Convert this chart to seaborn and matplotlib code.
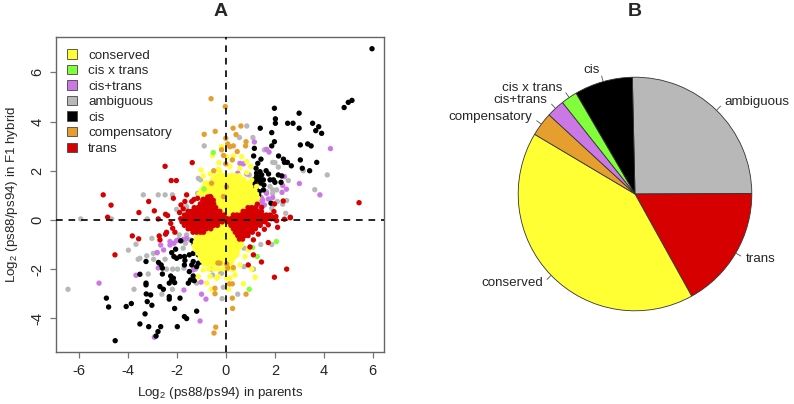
import matplotlib
matplotlib.use("Agg")
import matplotlib.pyplot as plt
from matplotlib.patches import Patch
import numpy as np
import pandas as pd
import seaborn as sns

# ----- Scatter values: log2 ratio in parents (x), in F1 hybrid (y) -----
cis = [
    (5.97, 6.96), (5.15, 4.86), (5.0, 4.78), (4.83, 4.57), (1.98, 4.54), (2.99, 4.34), (2.02, 4.11), (2.02, 3.93),
    (2.52, 3.93), (2.74, 3.93), (3.54, 3.93), (3.79, 3.79), (2.99, 3.73), (1.40, 3.73), (3.67, 3.63), (3.91, 3.52),
    (1.87, 3.55), (1.98, 3.18), (1.87, 3.01), (3.04, 3.05), (3.34, 3.09), (3.48, 3.01), (1.16, 2.91), (1.13, 2.60),
    (2.15, 2.60), (2.35, 2.47), (3.04, 2.44), (2.39, 2.34), (2.51, 2.34), (3.71, 2.34), (2.67, 2.2), (3.12, 2.1),
    (3.42, 2.0), (1.43, 2.47), (1.30, 2.30), (1.23, 2.10), (1.39, 1.96), (1.64, 2.0), (1.74, 1.87), (2.14, 1.83),
    (2.28, 1.79), (1.80, 1.63), (1.94, 1.63), (2.0, 1.53), (2.25, 1.53), (1.12, 1.63), (1.19, 1.49), (1.32, 1.63),
    (1.53, 1.63), (1.46, 1.83), (1.25, 1.76), (1.12, 1.40), (1.23, 1.29), (1.36, 1.15), (1.53, 1.22), (1.55, 1.42),
    (1.19, 0.75), (1.84, 0.68), (0.98, 1.02), (0.82, 0.72), (1.05, 0.9), (1.33, 1.0), (1.42, 1.5), (1.25, 1.9),
    (1.38, 1.72), (1.2, 1.1),
    (-4.53, -4.91), (-4.89, -3.18), (-4.80, -3.54), (-4.08, -3.52), (-3.87, -3.40), (-3.52, -2.21), (-3.27, -1.69),
    (-3.27, -2.57), (-3.27, -2.64), (-3.26, -3.01), (-3.08, -3.05), (-3.22, -3.32), (-3.03, -3.47), (-3.31, -3.82),
    (-3.52, -4.23), (-3.16, -4.34), (-2.67, -4.34), (-2.78, -4.54), (-2.86, -4.72), (-1.99, -4.34), (-2.10, -3.60),
    (-1.70, -3.93), (-1.61, -4.01), (-1.20, -3.71), (-1.88, -3.18), (-2.32, -3.12), (-2.32, -3.22), (-2.70, -2.71),
    (-2.56, -2.82), (-2.60, -2.20), (-2.60, -1.96), (-2.76, -1.73), (-2.65, -1.83), (-2.26, -2.28), (-2.15, -2.37),
    (-2.22, -2.44), (-2.32, -2.57), (-2.10, -2.55), (-1.54, -2.57), (-1.45, -2.44), (-1.30, -2.47), (-2.06, -1.19),
    (-2.22, -1.33), (-2.13, -1.49), (-2.02, -1.56), (-1.88, -1.49), (-1.70, -1.49), (-1.50, -1.42), (-1.34, -1.36),
    (-1.13, -1.42), (-1.68, -1.65), (-1.70, -1.83), (-1.50, -2.10), (-1.40, -1.83), (-1.34, -1.69), (-1.13, -1.76),
    (-0.95, -1.73), (-1.20, -1.90), (-1.34, -2.28), (-1.85, -0.85), (-1.38, -0.85), (-1.3, -1.0), (-0.9, -1.25),
]
ambiguous = [
    (0.85, 3.82), (0.55, 3.35), (1.10, 3.35), (1.57, 2.85), (1.91, 2.34), (2.0, 2.33), (2.14, 2.15), (3.16, 2.0),
    (4.14, 1.83), (2.55, 1.6), (1.80, 1.36), (1.91, 1.22), (2.07, 1.22), (3.63, 1.23), (2.48, 0.79), (2.10, 0.75),
    (2.32, 0.64), (2.44, 0.27), (1.66, 1.15), (1.91, 1.08), (1.87, 0.47), (0.95, 1.83),
    (-0.89, 3.01), (-3.38, 1.02), (-2.77, 1.02), (-2.49, 1.02), (-2.19, 1.02), (-2.02, 0.43), (-1.61, 0.54),
    (-1.57, 0.34), (-1.13, 1.69), (-1.04, 1.63), (-5.94, 0.04), (-4.68, 0.04), (-3.22, 0.04), (-1.16, 1.08),
    (-6.46, -2.82), (-3.76, -2.82), (-3.99, -1.23), (-3.68, -0.99), (-3.24, -1.46), (-3.52, -1.56), (-3.59, -1.6),
    (-3.03, -0.75), (-2.97, -1.36), (-2.81, -1.33), (-2.96, -1.6), (-3.18, -2.2), (-2.49, -1.6), (-2.43, -2.0),
    (-2.18, -2.0), (-1.98, -2.0), (-1.72, -1.96), (-2.62, -3.02), (-2.19, -2.82), (-1.91, -0.61), (-1.61, -0.61),
    (-1.47, -0.81), (-1.66, -0.95), (-1.75, -1.15), (-1.2, -2.57), (-1.24, -2.0), (-0.55, -2.24), (-0.16, -3.2),
    (-0.11, -2.74), (-0.22, -2.17), (1.42, -1.0), (1.87, -1.0), (0.74, -1.15), (0.74, -1.9), (1.12, -2.0),
    (0.48, -3.02), (-0.18, -2.17), (-1.1, -1.0), (-0.6, -2.0),
]
cis_plus_trans = [
    (4.27, 2.9), (1.16, 3.17), (1.66, 2.87), (1.76, 2.76), (2.39, 1.76), (3.0, 1.48), (2.32, 1.40), (2.47, 1.25),
    (2.29, 1.12), (3.84, 1.02), (1.66, 1.08), (1.73, 0.85), (1.91, 0.91), (1.46, 0.88), (1.46, 0.68), (1.57, 0.61),
    (1.39, 0.75), (1.32, 0.54), (0.57, 2.3), (0.71, 2.28), (0.85, 1.87), (0.48, 1.9), (1.5, 0.8), (1.4, 0.95),
    (-5.19, -2.57), (-3.68, -2.25), (-2.77, -1.95), (-2.55, -1.22), (-2.82, -1.33), (-2.67, -1.02), (-2.43, -0.5),
    (-2.29, -0.88), (-2.13, -0.95), (-2.02, -0.84), (-2.29, -1.02), (-1.95, -0.81), (-1.72, -2.85), (-1.0, -3.02),
    (-1.02, -2.53), (-1.06, -4.11), (-2.93, -4.77), (-0.82, -3.22), (-1.34, -2.03), (-1.61, -0.75), (-1.74, -0.79),
]
cis_x_trans = [(-0.52, 2.74), (2.06, -0.88), (0.95, -2.82), (1.28, -1.49), (1.09, -1.12), (-0.9, 1.26)]
compensatory = [
    (-0.61, 4.93), (-0.03, 4.61), (-0.44, 3.6), (-0.89, 3.48), (-0.01, 3.32), (-0.18, 2.85), (0.07, 3.09),
    (-0.1, 2.62), (-0.01, 2.28), (-0.59, 1.49), (0.29, 3.73), (0.61, 3.82), (0.41, 3.47), (0.16, 2.98), (0.82, 3.18),
    (0.8, 3.01), (0.3, 3.01), (0.46, 2.78), (0.26, 2.44), (-0.42, -4.36), (-0.49, -4.6), (-0.45, -2.78),
    (-0.45, -3.0), (0.27, -3.6), (0.26, -3.18), (0.82, -3.02), (0.14, -2.6), (0.26, -2.6), (0.3, -1.94),
    (-0.25, -1.76), (0.03, -1.79), (-0.33, -1.75), (0.07, -1.95), (-0.5, 2.0), (0.02, 1.35), (-0.1, 0.95),
]
trans = [
    (-2.49, 2.18), (-1.38, 2.33), (-2.24, 1.6), (-2.03, 1.6), (-5.02, 1.02), (-4.7, 0.6), (-4.84, 0.11), (-3.16, 0.75),
    (-3.56, 0.3), (-2.93, 0.37), (-2.77, 0.04), (-2.47, 0.23), (-2.39, 0.18), (-2.15, 0.88), (-1.61, 1.02),
    (-1.31, 0.83), (-1.68, 0.75), (-1.84, 0.61), (-1.4, 0.75), (-0.93, 0.84), (-0.65, 0.95), (-1.16, 0.88),
    (-4.54, -1.42), (-3.83, -0.65), (-3.57, -0.77), (-2.73, -0.65), (-2.7, -0.81), (-2.47, -0.58), (-2.43, -0.51),
    (-2.18, -0.34), (-2.26, -0.14), (-2.09, -0.5), (2.48, -2.0), (1.98, -2.33), (1.45, -1.71), (0.91, -1.83),
    (1.12, -1.42), (0.98, -1.1), (1.73, -0.92), (1.12, -0.81), (2.11, -0.3), (2.39, 0.03), (2.63, 0.09), (2.07, -0.03),
    (1.32, -0.58), (1.57, -0.38), (1.73, -0.2), (5.44, 0.7), (1.98, 0.65), (2.34, 0.77), (1.96, 0.34), (1.46, 0.51),
    (1.28, 0.64), (1.53, 0.14), (1.73, 0.14), (1.87, 0.14), (2.04, 0.14), (2.63, 0.11), (-1.9, 0.3), (-1.75, 0.45),
]
conserved = [
    (-1.02, 2.03), (-0.29, 2.33), (-0.18, 2.98), (-0.55, 2.62), (-0.93, 1.79), (-0.65, 1.87), (-0.31, 2.06),
    (-0.18, 2.91), (0.03, 2.57), (0.3, 2.6), (0.64, 2.57), (0.85, 2.37), (1.01, 2.17), (0.57, 2.1), (0.16, 2.17),
    (0.85, 1.92), (-0.25, 1.96), (1.05, 1.63), (0.5, 1.76), (0.3, 1.8), (1.25, 1.36), (0.98, 1.5), (-0.85, 1.5),
    (1.19, -2.33), (1.05, -2.0), (0.71, -2.6), (0.57, -1.83), (0.78, -1.49), (0.91, -1.22), (0.64, -1.02), (0.1, -2.82),
    (0.3, -2.03), (0.37, -2.24), (0.16, -2.37), (0.44, -1.42), (-0.59, -2.82), (-0.79, -2.57), (-0.38, -2.37),
    (-0.65, -2.3), (-1.13, -2.3), (-0.93, -2.03), (-0.31, -2.3), (0.03, -2.37), (-0.7, -2.0), (-0.5, -2.0),
    (-0.3, -2.0), (-0.1, -2.0), (0.1, -2.0),
]
# dense yellow and red masses, read row by row: y -> x values
conserved_rows = {
    0.15: [-0.1, 0.06, 0.22, 0.38, 0.54],
    0.3: [-0.2, -0.04, 0.12, 0.28, 0.44, 0.6, 0.76],
    0.45: [-0.34, -0.18, -0.02, 0.14, 0.3, 0.46, 0.62, 0.78],
    0.6: [-0.42, -0.26, -0.1, 0.06, 0.22, 0.38, 0.54, 0.7, 0.86, 1.02, 1.18],
    0.75: [-0.5, -0.34, -0.18, -0.02, 0.14, 0.3, 0.46, 0.62, 0.78, 0.94, 1.1, 1.26],
    0.9: [-0.62, -0.46, -0.3, -0.14, 0.02, 0.18, 0.34, 0.5, 0.66, 0.82, 0.98, 1.14, 1.3],
    1.05: [-1.1, -0.94, -0.78, -0.62, -0.46, -0.3, -0.14, 0.02, 0.18, 0.34, 0.5, 0.66, 0.82, 0.98, 1.14, 1.25],
    1.2: [-1.02, -0.86, -0.7, -0.54, -0.38, -0.22, -0.06, 0.1, 0.26, 0.42, 0.58, 0.74, 0.9, 1.06, 1.18],
    1.35: [-0.9, -0.74, -0.58, -0.42, -0.26, -0.1, 0.06, 0.22, 0.38, 0.54, 0.7, 0.86, 1.02],
    1.5: [-0.74, -0.58, -0.42, -0.26, -0.1, 0.06, 0.22, 0.38, 0.54, 0.7, 0.86],
    1.65: [-0.55, -0.39, -0.23, -0.07, 0.09, 0.25, 0.41, 0.57, 0.73],
    1.8: [-0.42, -0.26, -0.1, 0.06, 0.22, 0.38, 0.54],
    -0.15: [-0.3, -0.15, 0.0, 0.12],
    -0.3: [-0.56, -0.4, -0.24, -0.08, 0.06, 0.2],
    -0.45: [-0.86, -0.7, -0.54, -0.38, -0.22, -0.06, 0.1, 0.26],
    -0.6: [-1.15, -1.0, -0.84, -0.68, -0.52, -0.36, -0.2, -0.04, 0.12, 0.28, 0.4],
    -0.75: [-1.22, -1.06, -0.9, -0.74, -0.58, -0.42, -0.26, -0.1, 0.06, 0.22, 0.36, 0.48],
    -0.9: [-1.25, -1.09, -0.93, -0.77, -0.61, -0.45, -0.29, -0.13, 0.03, 0.19, 0.35, 0.5, 0.6],
    -1.05: [-1.3, -1.14, -0.98, -0.82, -0.66, -0.5, -0.34, -0.18, -0.02, 0.14, 0.3, 0.46, 0.6],
    -1.2: [-1.25, -1.09, -0.93, -0.77, -0.61, -0.45, -0.29, -0.13, 0.03, 0.19, 0.35, 0.5],
    -1.35: [-1.15, -0.99, -0.83, -0.67, -0.51, -0.35, -0.19, -0.03, 0.13, 0.29, 0.45],
    -1.5: [-1.05, -0.89, -0.73, -0.57, -0.41, -0.25, -0.09, 0.07, 0.23, 0.35],
    -1.65: [-0.98, -0.82, -0.66, -0.5, -0.34, -0.18, -0.02, 0.14, 0.25],
    -1.8: [-0.9, -0.74, -0.58, -0.42, -0.1, 0.2],
}
trans_rows = {
    0.05: [-1.85, -1.7, -1.55, -1.4, -1.25, -1.1, -0.95, -0.8, -0.65, -0.5, -0.35, -0.2, -0.05,
           0.05, 0.2, 0.35, 0.5, 0.65, 0.8, 0.95, 1.1, 1.25, 1.4, 1.55, 1.7, 1.85, 1.95],
    0.2: [-1.7, -1.55, -1.4, -1.25, -1.1, -0.95, -0.8, -0.65, -0.5, -0.35, -0.2, -0.08,
          0.3, 0.45, 0.6, 0.75, 0.9, 1.05, 1.2, 1.35, 1.5, 1.65, 1.8],
    0.35: [-1.55, -1.4, -1.25, -1.1, -0.95, -0.8, -0.65, -0.5, -0.35, -0.25, 0.7, 0.85, 1.0, 1.15, 1.3, 1.45],
    0.5: [-1.3, -1.15, -1.0, -0.85, -0.7, -0.55, -0.42, 0.9, 1.05, 1.2],
    0.65: [-1.05, -0.92, -0.78, -0.64, -0.5],
    0.8: [-0.95, -0.8, -0.65, -0.52],
    0.93: [-0.75, -0.62],
    -0.08: [-1.8, -1.65, -1.5, -1.35, -1.2, -1.05, -0.9, -0.75, -0.6, -0.45, -0.3, -0.15,
            0.1, 0.25, 0.4, 0.55, 0.7, 0.85, 1.0, 1.15, 1.3, 1.45, 1.6],
    -0.22: [-1.7, -1.55, -1.4, -1.25, -1.1, -0.95, -0.8, -0.65, -0.5, -0.35,
            0.2, 0.35, 0.5, 0.65, 0.8, 0.95, 1.1, 1.25, 1.4],
    -0.36: [-1.55, -1.4, -1.25, -1.1, -0.95, -0.8, -0.62, 0.3, 0.45, 0.6, 0.75, 0.9, 1.05, 1.2],
    -0.5: [-1.35, -1.2, -1.05, -0.92, 0.38, 0.52, 0.66, 0.8, 0.94, 1.08],
    -0.64: [0.48, 0.62, 0.76, 0.9],
    -0.78: [0.55, 0.68],
}

# drawing order, later classes land on top
draw_order = ["ambiguous", "cis+trans", "cis", "conserved", "cis x trans", "compensatory", "trans"]
legend_order = ["conserved", "cis x trans", "cis+trans", "ambiguous", "cis", "compensatory", "trans"]
palette = {
    "conserved": "#FFFF33",
    "cis x trans": "#80FF3A",
    "cis+trans": "#CC77E6",
    "ambiguous": "#B8B8B8",
    "cis": "#000000",
    "compensatory": "#E69F2E",
    "trans": "#D60000",
}

# ----- Pie values, percent of genes, clockwise from the top -----
pie_labels = ["ambiguous", "trans", "conserved", "compensatory", "cis+trans", "cis x trans", "cis"]
pie_shares = [25.3, 17.0, 41.6, 3.3, 2.5, 2.25, 8.05]

x_ticks = [-6, -4, -2, 0, 2, 4, 6]
y_ticks = [-4, -2, 0, 2, 4, 6]


def expand_rows(rows):
    return [(x, y) for y, xs in rows.items() for x in xs]


points = {
    "ambiguous": ambiguous,
    "cis+trans": cis_plus_trans,
    "cis": cis,
    "conserved": expand_rows(conserved_rows) + conserved,
    "cis x trans": cis_x_trans,
    "compensatory": compensatory,
    "trans": expand_rows(trans_rows) + trans,
}
frames = [
    pd.DataFrame(points[name], columns=["parents", "hybrid"]).assign(group=name)
    for name in draw_order
]
df = pd.concat(frames, ignore_index=True)

sns.set_style("white")
plt.rcParams["font.family"] = ["Liberation Sans", "DejaVu Sans"]
plt.rcParams["mathtext.default"] = "regular"
plt.rcParams["axes.unicode_minus"] = False

W, H = 794, 404
fig = plt.figure(figsize=(W / 100, H / 100), dpi=100)


def px_axes(left, top, right, bottom):
    return fig.add_axes([left / W, 1 - bottom / H, (right - left) / W, (bottom - top) / H])


# ----- Panel A -----
ax = px_axes(56, 36.7, 384, 352)
sns.scatterplot(
    data=df, x="parents", y="hybrid", hue="group", hue_order=draw_order, palette=palette,
    s=15, linewidth=0, legend=False, ax=ax, zorder=2,
)
ax.axhline(0, color="black", lw=1.2, ls=(0, (4, 3.5)), zorder=3)
ax.axvline(0, color="black", lw=1.2, ls=(0, (4, 3.5)), zorder=3)
ax.set_xlim(-6.95, 6.46)
ax.set_ylim(-5.37, 7.45)
ax.set_xticks(x_ticks)
ax.set_yticks(y_ticks)
ax.tick_params(axis="both", length=4.5, width=0.9, color="#777777", labelsize=10.5, pad=4,
               bottom=True, left=True)
plt.setp(ax.get_yticklabels(), rotation=90, va="center")
for spine in ax.spines.values():
    spine.set_color("#666666")
    spine.set_linewidth(1.0)
ax.set_xlabel("Log$_2$ (ps88/ps94) in parents", fontsize=9.6, labelpad=5)
ax.set_ylabel("Log$_2$ (ps88/ps94) in F1 hybrid", fontsize=9.6, labelpad=7)
handles = [Patch(facecolor=palette[n], edgecolor="#444444", linewidth=0.6, label=n) for n in legend_order]
ax.legend(
    handles=handles, loc="upper left", frameon=False, fontsize=9.6, handlelength=0.75, handleheight=0.7,
    handletextpad=0.82, labelspacing=0.24, borderaxespad=0, borderpad=0, bbox_to_anchor=(0.034, 0.96),
)

# ----- Panel B -----
ax_pie = px_axes(635 - 146, 194 - 146, 635 + 146, 194 + 146)
wedges, texts = ax_pie.pie(
    pie_shares, labels=pie_labels, colors=[palette[n] for n in pie_labels], startangle=91.3,
    counterclock=False, labeldistance=1.1, radius=1.0,
    wedgeprops={"edgecolor": "#333333", "linewidth": 0.6}, textprops={"fontsize": 9.6},
)
for w in wedges:
    mid = np.deg2rad((w.theta1 + w.theta2) / 2)
    ax_pie.plot([np.cos(mid), 1.05 * np.cos(mid)], [np.sin(mid), 1.05 * np.sin(mid)], color="#555555", lw=0.6)

fig.text(221 / W, 1 - 12 / H, "A", fontsize=14, fontweight="bold", ha="center", va="center")
fig.text(635 / W, 1 - 12 / H, "B", fontsize=14, fontweight="bold", ha="center", va="center")

fig.savefig("out.png", dpi=100)
